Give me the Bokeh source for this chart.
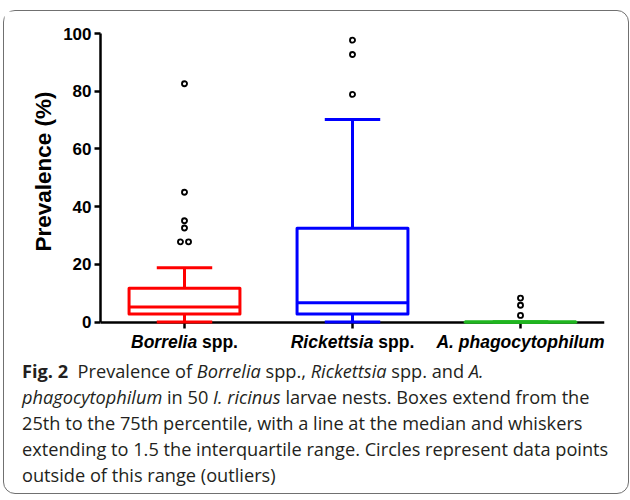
from bokeh.plotting import figure
from bokeh.models import FactorRange, Range1d, FixedTicker, Div, ColumnDataSource, Title
from bokeh.core.properties import value
from bokeh.layouts import column
from bokeh.transform import dodge
from bokeh.embed import file_html
from bokeh.resources import INLINE

# ---------------- data ----------------
categories = ["Borrelia spp.", "Rickettsia spp.", "A. phagocytophilum"]
label_italic = ["Borrelia", "Rickettsia", "A. phagocytophilum"]
label_plain = ["spp.", "spp.", ""]
box_colors = ["#FF0000", "#0000FF", "#1FB51F"]

q1 = [2.8, 2.8, 0.0]
median = [5.2, 6.7, 0.0]
q3 = [11.7, 32.5, 0.0]
whisker_low = [0.0, 0.0, 0.0]
whisker_high = [18.8, 70.2, 0.0]

outliers_borrelia = [27.8, 27.8, 32.6, 35.1, 45.0, 82.6]
outliers_rickettsia = [78.9, 92.7, 97.7]
outliers_anaplasma = [2.3, 5.8, 8.3]

y_ticks = [0, 20, 40, 60, 80, 100]
y_title = "Prevalence (%)"

# ---------------- figure ----------------
# the frame runs a little below 0 so that the category names (drawn as text) fit inside it
x_range = FactorRange(*categories, range_padding=0)
p = figure(width=614, height=342,
           x_range=x_range,
           y_range=Range1d(-10.9, 100),
           x_axis_location="above",
           output_backend="svg", toolbar_location=None,
           min_border_left=96, min_border_right=14,
           min_border_top=22, min_border_bottom=0)
p.outline_line_color = None
p.grid.visible = False
p.background_fill_color = "white"
p.border_fill_color = "white"

BOX_W = 0.66
CAP_W = 0.33
LW = 3

src = ColumnDataSource(dict(cat=categories, q1=q1, q3=q3, med=median,
                            lo=whisker_low, hi=whisker_high, color=box_colors))

# whiskers (vertical)
p.segment(x0="cat", x1="cat", y0="q3", y1="hi", source=src, line_color="color", line_width=LW)
p.segment(x0="cat", x1="cat", y0="lo", y1="q1", source=src, line_color="color", line_width=LW)
# caps
p.segment(x0=dodge("cat", -CAP_W / 2, range=x_range), x1=dodge("cat", CAP_W / 2, range=x_range),
          y0="hi", y1="hi", source=src, line_color="color", line_width=LW)
p.segment(x0=dodge("cat", -CAP_W / 2, range=x_range), x1=dodge("cat", CAP_W / 2, range=x_range),
          y0="lo", y1="lo", source=src, line_color="color", line_width=LW)
# boxes
p.vbar(x="cat", top="q3", bottom="q1", width=BOX_W, source=src, fill_color=None,
       line_color="color", line_width=LW, line_join="round")
# medians
p.segment(x0=dodge("cat", -BOX_W / 2, range=x_range), x1=dodge("cat", BOX_W / 2, range=x_range),
          y0="med", y1="med", source=src, line_color="color", line_width=LW)

# outliers: equal values are placed side by side, as in the original
groups = [(categories[0], outliers_borrelia), (categories[1], outliers_rickettsia),
          (categories[2], outliers_anaplasma)]
by_offset = {}
step = 0.024
for cat, vals in groups:
    vs = sorted(vals)
    i = 0
    while i < len(vs):
        j = i
        while j + 1 < len(vs) and abs(vs[j + 1] - vs[i]) < 0.5:
            j += 1
        n = j - i + 1
        for k in range(n):
            off = round((k - (n - 1) / 2) * 2 * step, 4)
            by_offset.setdefault(off, {"cat": [], "y": []})
            by_offset[off]["cat"].append(cat)
            by_offset[off]["y"].append(vs[i + k])
        i = j + 1
for off, d in by_offset.items():
    s = ColumnDataSource(d)
    p.scatter(x=dodge("cat", off, range=x_range), y="y", source=s, size=5,
              line_color="black", line_width=1.9, fill_color="white")

# axes
for ax in (p.xaxis[0], p.yaxis[0]):
    ax.axis_line_width = 2.5
    ax.axis_line_color = "black"
    ax.major_tick_line_width = 2.5
    ax.major_tick_line_color = "black"
    ax.minor_tick_line_color = None

yax = p.yaxis[0]
yax.bounds = (0, 100)
yax.major_tick_out = 6
yax.major_tick_in = 0
yax.ticker = FixedTicker(ticks=y_ticks)
yax.major_label_text_font = "Liberation Sans"
yax.major_label_text_font_style = "bold"
yax.major_label_text_font_size = "17px"
yax.major_label_text_color = "black"
yax.major_label_standoff = 3

# y title as a side title; "left" alignment starts it from the frame bottom, offset lifts it
# so that it sits centred on the 0-100 part of the axis as in the original
p.add_layout(Title(text=y_title, align="left", offset=102, standoff=9,
                   text_font="Liberation Sans", text_font_style="bold",
                   text_font_size="22.5px", text_color="black"), "left")

# category axis sits at y = 0, ticks pointing down, below the coloured marks
xax = p.xaxis[0]
xax.fixed_location = 0
xax.major_tick_out = 0
xax.major_tick_in = 6
xax.major_label_text_color = None
xax.major_label_standoff = 0
xax.level = "underlay"

# category labels: italic genus + plain "spp." (Arial/Liberation Bold advance widths)
W = {'A': 722, 'B': 722, 'R': 722, '.': 278, ' ': 278, 'a': 556, 'c': 556, 'e': 556,
     'g': 611, 'h': 611, 'i': 278, 'k': 556, 'l': 278, 'm': 889, 'o': 611, 'p': 611,
     'r': 389, 's': 556, 't': 333, 'u': 611, 'y': 556}
FS = 17.5


def tw(s):
    return sum(W.get(ch, 556) for ch in s) * FS / 1000.0


it_src = {"cat": [], "text": [], "dx": []}
pl_src = {"cat": [], "text": [], "dx": []}
for cat, it, pl in zip(categories, label_italic, label_plain):
    w_it = tw(it)
    w_sp = tw(" ") if pl else 0
    w_pl = tw(pl) if pl else 0
    left = -(w_it + w_sp + w_pl) / 2
    it_src["cat"].append(cat); it_src["text"].append(it); it_src["dx"].append(left + w_it)
    if pl:
        pl_src["cat"].append(cat); pl_src["text"].append(pl); pl_src["dx"].append(left + w_it + w_sp)
it_src["y"] = [0] * len(it_src["cat"])
pl_src["y"] = [0] * len(pl_src["cat"])

LABEL_DY = 19.5
p.text(x="cat", y="y", text="text", x_offset="dx", y_offset=LABEL_DY, source=ColumnDataSource(it_src),
       text_align="right", text_baseline="alphabetic", text_font=value("Liberation Sans"),
       text_font_style="bold italic", text_font_size=f"{FS}px", text_color="black")
p.text(x="cat", y="y", text="text", x_offset="dx", y_offset=LABEL_DY, source=ColumnDataSource(pl_src),
       text_align="left", text_baseline="alphabetic", text_font=value("Liberation Sans"),
       text_font_style="bold", text_font_size=f"{FS}px", text_color="black")

caption_html = (
    '<div style="padding-left:13px; white-space:nowrap;">'
    '<b>Fig.&nbsp;2</b>&nbsp;&nbsp;Prevalence of <i>Borrelia</i> spp., <i>Rickettsia</i> spp. and <i>A.</i><br>'
    '<i>phagocytophilum</i> in 50 <i>I. ricinus</i> larvae nests. Boxes extend from the<br>'
    '25th to the 75th percentile, with a line at the median and whiskers<br>'
    'extending to 1.5 the interquartile range. Circles represent data points<br>'
    'outside of this range (outliers)'
    '</div>'
)
cap = Div(text=caption_html, width=614,
          styles={"font-family": "'Open Sans', sans-serif", "font-size": "18.2px",
                  "line-height": "26px", "color": "#231f20"})

layout = column(p, cap, margin=(10, 0, 0, 3),
                styles={"border": "1.5px solid #707070", "border-radius": "12px",
                        "background": "white"})

open("out.html", "w").write(file_html(layout, INLINE))
